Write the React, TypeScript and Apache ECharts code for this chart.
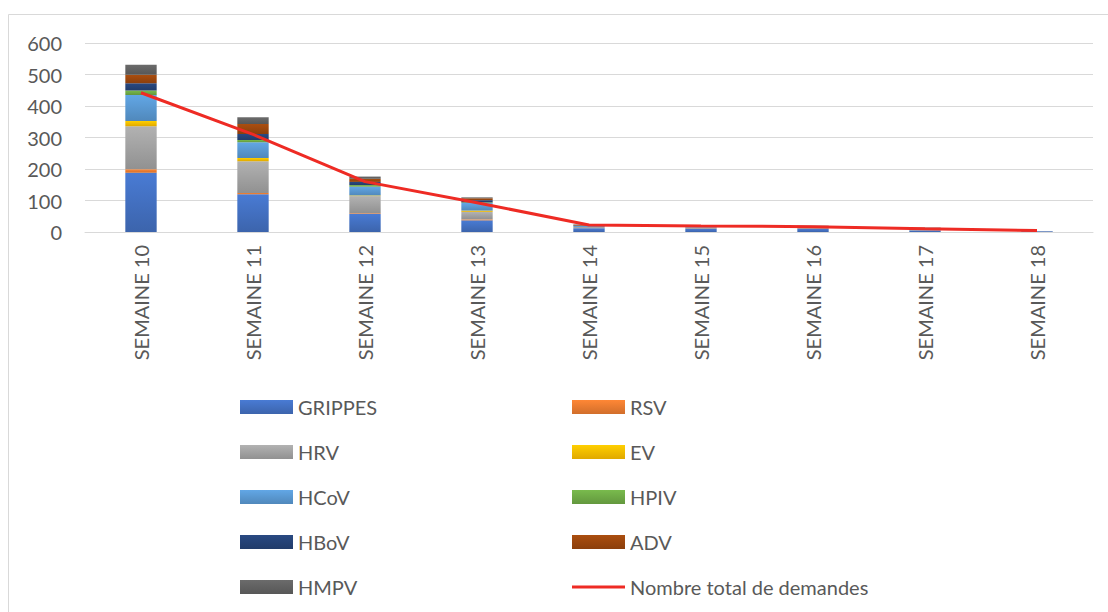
import React, { useEffect, useRef } from "react";
import * as echarts from "echarts";

const categories = ["SEMAINE 10", "SEMAINE 11", "SEMAINE 12", "SEMAINE 13", "SEMAINE 14", "SEMAINE 15", "SEMAINE 16", "SEMAINE 17", "SEMAINE 18"];
const grippes = [188, 120, 58, 37, 12, 10, 10, 5, 2];
const rsv = [11, 4, 2, 3, 0, 0, 0, 0, 0];
const hrv = [137, 101, 54, 24, 4, 4, 5, 4, 1];
const ev = [16, 10, 2, 4, 0, 0, 0, 0, 0];
const hcov = [83, 50, 28, 24, 3, 2, 2, 2, 0];
const hpiv = [14, 7, 5, 2, 0, 0, 0, 0, 0];
const hbov = [23, 19, 10, 7, 1, 1, 0, 0, 0];
const adv = [27, 32, 10, 6, 2, 1, 1, 1, 0];
const hmpv = [32, 21, 7, 3, 2, 2, 2, 2, 0];
const total = [442, 310, 160, 93, 22, 19, 17, 10, 5];

const barSeries = [
  { name: "GRIPPES", data: grippes, color: "#4472C4" },
  { name: "RSV", data: rsv, color: "#ED7D31" },
  { name: "HRV", data: hrv, color: "#A5A5A5" },
  { name: "EV", data: ev, color: "#FFC000" },
  { name: "HCoV", data: hcov, color: "#5B9BD5" },
  { name: "HPIV", data: hpiv, color: "#70AD47" },
  { name: "HBoV", data: hbov, color: "#264478" },
  { name: "ADV", data: adv, color: "#9E480E" },
  { name: "HMPV", data: hmpv, color: "#636363" },
];

const lineName = "Nombre total de demandes";
const leftLegend = ["GRIPPES", "HRV", "HCoV", "HBoV", "HMPV"];
const rightLegend = ["RSV", "EV", "HPIV", "ADV", lineName];

function shade(hex: string, f: number) {
  const n = parseInt(hex.slice(1), 16);
  const r = Math.round(((n >> 16) & 255) * f);
  const g = Math.round(((n >> 8) & 255) * f);
  const b = Math.round((n & 255) * f);
  const c = (v: number) => Math.max(0, Math.min(255, v)).toString(16).padStart(2, "0");
  return "#" + c(r) + c(g) + c(b);
}

function grad(hex: string) {
  return new echarts.graphic.LinearGradient(0, 0, 0, 1, [
    { offset: 0, color: shade(hex, 1.08) },
    { offset: 1, color: shade(hex, 0.88) },
  ]);
}

export default function App() {
  const ref = useRef<HTMLDivElement>(null);
  useEffect(() => {
    if (!ref.current) return;
    const chart = echarts.init(ref.current, undefined, { renderer: "svg" });
    const font = "Lato, 'Open Sans', sans-serif";
    const legendCommon = {
      orient: "vertical" as const,
      top: 397,
      height: 260,
      padding: 0,
      itemWidth: 53,
      itemHeight: 14,
      itemGap: 25,
      textStyle: { fontSize: 20, lineHeight: 20, color: "#595959", fontFamily: font },
    };
    const mapItem = (n: string) =>
      n === lineName
        ? {
            name: n,
            icon: "path://M0,0 M53,14 M0,5.6 L53,5.6 L53,8.4 L0,8.4 Z",
            itemStyle: { color: "#EE2B24" },
          }
        : { name: n, icon: "rect" };
    chart.setOption({
      animation: false,
      graphic: [
        {
          type: "rect",
          shape: { x: 8.5, y: 14.5, width: 1120, height: 620 },
          style: { fill: "none", stroke: "#d9d9d9", lineWidth: 1 },
          silent: true,
        },
      ],
      grid: { left: 85, right: 15, top: 43, bottom: 380, containLabel: false },
      legend: [
        { ...legendCommon, left: 240, data: leftLegend.map(mapItem) },
        { ...legendCommon, left: 572, data: rightLegend.map(mapItem) },
      ],
      xAxis: {
        type: "category",
        data: categories,
        axisLine: { show: true, lineStyle: { color: "#d9d9d9", width: 1 } },
        axisTick: { show: false },
        axisLabel: {
          rotate: 90,
          margin: 13,
          fontSize: 20,
          color: "#595959",
          fontFamily: font,
        },
      },
      yAxis: {
        type: "value",
        min: 0,
        max: 600,
        interval: 100,
        axisLine: { show: false },
        axisTick: { show: false },
        splitLine: { lineStyle: { color: "#d9d9d9", width: 1 } },
        axisLabel: { fontSize: 20, color: "#595959", fontFamily: font, margin: 23 },
      },
      series: [
        ...barSeries.map((s) => ({
          name: s.name,
          type: "bar",
          stack: "total",
          barWidth: "28%",
          data: s.data,
          itemStyle: { color: grad(s.color) },
          emphasis: { disabled: true },
        })),
        {
          name: lineName,
          type: "line",
          data: total,
          symbol: "none",
          lineStyle: { color: "#EE2B24", width: 3 },
          itemStyle: { color: "#EE2B24" },
          z: 5,
        },
      ],
    });
    return () => chart.dispose();
  }, []);
  return (
    <div
      ref={ref}
      style={{ position: "absolute", left: 0, top: 0, width: 1108, height: 612 }}
    />
  );
}
